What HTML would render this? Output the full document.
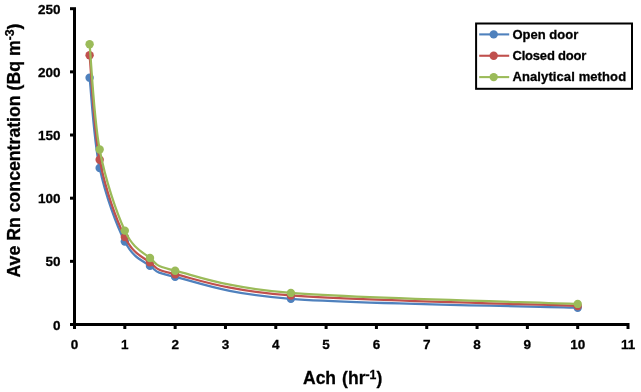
<!DOCTYPE html>
<html><head><meta charset="utf-8"><style>
html,body{margin:0;padding:0;background:#fff;}
body{width:641px;height:392px;overflow:hidden;font-family:"Liberation Sans",sans-serif;}
svg{display:block;will-change:transform;}
text{stroke:#000;stroke-width:0.3px;}
</style></head><body>
<svg width="641" height="392" viewBox="0 0 641 392">
<g stroke="#000" stroke-width="3" fill="none">
<line x1="74.5" y1="8.2" x2="74.5" y2="329"/>
<line x1="70" y1="324.5" x2="628.6" y2="324.5"/>
<line x1="70" y1="324.50" x2="76" y2="324.50"/>
<line x1="70" y1="261.34" x2="76" y2="261.34"/>
<line x1="70" y1="198.18" x2="76" y2="198.18"/>
<line x1="70" y1="135.02" x2="76" y2="135.02"/>
<line x1="70" y1="71.86" x2="76" y2="71.86"/>
<line x1="70" y1="8.70" x2="76" y2="8.70"/>
<line x1="74.50" y1="323" x2="74.50" y2="329"/>
<line x1="124.82" y1="323" x2="124.82" y2="329"/>
<line x1="175.14" y1="323" x2="175.14" y2="329"/>
<line x1="225.46" y1="323" x2="225.46" y2="329"/>
<line x1="275.78" y1="323" x2="275.78" y2="329"/>
<line x1="326.10" y1="323" x2="326.10" y2="329"/>
<line x1="376.42" y1="323" x2="376.42" y2="329"/>
<line x1="426.74" y1="323" x2="426.74" y2="329"/>
<line x1="477.06" y1="323" x2="477.06" y2="329"/>
<line x1="527.38" y1="323" x2="527.38" y2="329"/>
<line x1="577.70" y1="323" x2="577.70" y2="329"/>
<line x1="628.02" y1="323" x2="628.02" y2="329"/>
</g>
<g font-family="Liberation Sans" font-weight="bold" font-size="13.5" fill="#000">
<text x="60.6" y="329.50" text-anchor="end">0</text>
<text x="60.6" y="266.34" text-anchor="end">50</text>
<text x="60.6" y="203.18" text-anchor="end">100</text>
<text x="60.6" y="140.02" text-anchor="end">150</text>
<text x="60.6" y="76.86" text-anchor="end">200</text>
<text x="60.6" y="13.70" text-anchor="end">250</text>
<text x="74.50" y="348.8" text-anchor="middle">0</text>
<text x="124.82" y="348.8" text-anchor="middle">1</text>
<text x="175.14" y="348.8" text-anchor="middle">2</text>
<text x="225.46" y="348.8" text-anchor="middle">3</text>
<text x="275.78" y="348.8" text-anchor="middle">4</text>
<text x="326.10" y="348.8" text-anchor="middle">5</text>
<text x="376.42" y="348.8" text-anchor="middle">6</text>
<text x="426.74" y="348.8" text-anchor="middle">7</text>
<text x="477.06" y="348.8" text-anchor="middle">8</text>
<text x="527.38" y="348.8" text-anchor="middle">9</text>
<text x="577.70" y="348.8" text-anchor="middle">10</text>
<text x="628.02" y="348.8" text-anchor="middle">11</text>
</g>
<path d="M89.60 77.67 C91.27 92.72 93.79 140.68 99.66 167.99 C105.53 195.30 116.43 225.19 124.82 241.51 C133.21 257.82 141.59 259.99 149.98 265.89 C158.37 271.78 151.66 271.38 175.14 276.88 C198.62 282.37 223.78 293.72 290.88 298.86 C357.97 303.99 529.90 306.23 577.70 307.70" stroke="#4F81BD" stroke-width="2.25" fill="none" stroke-linejoin="round" stroke-linecap="round"/>
<circle cx="89.60" cy="77.67" r="4.2" fill="#4F81BD"/>
<circle cx="99.66" cy="167.99" r="4.2" fill="#4F81BD"/>
<circle cx="124.82" cy="241.51" r="4.2" fill="#4F81BD"/>
<circle cx="149.98" cy="265.89" r="4.2" fill="#4F81BD"/>
<circle cx="175.14" cy="276.88" r="4.2" fill="#4F81BD"/>
<circle cx="290.88" cy="298.86" r="4.2" fill="#4F81BD"/>
<circle cx="577.70" cy="307.70" r="4.2" fill="#4F81BD"/>
<path d="M89.60 55.19 C91.27 72.62 93.79 129.48 99.66 159.78 C105.53 190.07 116.43 219.86 124.82 236.96 C133.21 254.06 141.59 256.14 149.98 262.35 C158.37 268.56 151.66 268.71 175.14 274.22 C198.62 279.74 223.78 290.16 290.88 295.45 C357.97 300.73 529.90 304.18 577.70 305.93" stroke="#C0504D" stroke-width="2.25" fill="none" stroke-linejoin="round" stroke-linecap="round"/>
<circle cx="89.60" cy="55.19" r="4.2" fill="#C0504D"/>
<circle cx="99.66" cy="159.78" r="4.2" fill="#C0504D"/>
<circle cx="124.82" cy="236.96" r="4.2" fill="#C0504D"/>
<circle cx="149.98" cy="262.35" r="4.2" fill="#C0504D"/>
<circle cx="175.14" cy="274.22" r="4.2" fill="#C0504D"/>
<circle cx="290.88" cy="295.45" r="4.2" fill="#C0504D"/>
<circle cx="577.70" cy="305.93" r="4.2" fill="#C0504D"/>
<path d="M89.60 44.32 C91.27 61.86 93.79 118.49 99.66 149.55 C105.53 180.60 116.43 212.58 124.82 230.64 C133.21 248.71 141.59 251.26 149.98 257.93 C158.37 264.60 151.66 264.86 175.14 270.69 C198.62 276.52 223.78 287.38 290.88 292.92 C357.97 298.46 529.90 302.08 577.70 303.91" stroke="#9BBB59" stroke-width="2.25" fill="none" stroke-linejoin="round" stroke-linecap="round"/>
<circle cx="89.60" cy="44.32" r="4.2" fill="#9BBB59"/>
<circle cx="99.66" cy="149.55" r="4.2" fill="#9BBB59"/>
<circle cx="124.82" cy="230.64" r="4.2" fill="#9BBB59"/>
<circle cx="149.98" cy="257.93" r="4.2" fill="#9BBB59"/>
<circle cx="175.14" cy="270.69" r="4.2" fill="#9BBB59"/>
<circle cx="290.88" cy="292.92" r="4.2" fill="#9BBB59"/>
<circle cx="577.70" cy="303.91" r="4.2" fill="#9BBB59"/>
<text x="303" y="383.8" font-family="Liberation Sans" font-weight="bold" font-size="17.5" word-spacing="1.2">Ach (hr<tspan font-size="12.3" dy="-5">-1</tspan><tspan dy="5">)</tspan></text>
<text transform="translate(20.2,277.5) rotate(-90)" x="0" y="0" font-family="Liberation Sans" font-weight="bold" font-size="17.7">Ave Rn concentration (Bq m<tspan font-size="12.3" dy="-6.5">-3</tspan><tspan dy="6.5">)</tspan></text>
<rect x="476.1" y="23.5" width="155.9" height="65.3" fill="#fff" stroke="#000" stroke-width="2"/>
<line x1="479.2" y1="34.40" x2="509.2" y2="34.40" stroke="#4F81BD" stroke-width="2.1"/>
<circle cx="493.7" cy="34.40" r="4.2" fill="#4F81BD"/>
<text x="512.5" y="39.10" font-family="Liberation Sans" font-weight="bold" font-size="13" letter-spacing="0">Open door</text>
<line x1="479.2" y1="55.75" x2="509.2" y2="55.75" stroke="#C0504D" stroke-width="2.1"/>
<circle cx="493.7" cy="55.75" r="4.2" fill="#C0504D"/>
<text x="512.5" y="60.10" font-family="Liberation Sans" font-weight="bold" font-size="13" letter-spacing="-0.2">Closed door</text>
<line x1="479.2" y1="77.10" x2="509.2" y2="77.10" stroke="#9BBB59" stroke-width="2.1"/>
<circle cx="493.7" cy="77.10" r="4.2" fill="#9BBB59"/>
<text x="512.5" y="81.10" font-family="Liberation Sans" font-weight="bold" font-size="13" letter-spacing="0.1">Analytical method</text>
</svg>
</body></html>
